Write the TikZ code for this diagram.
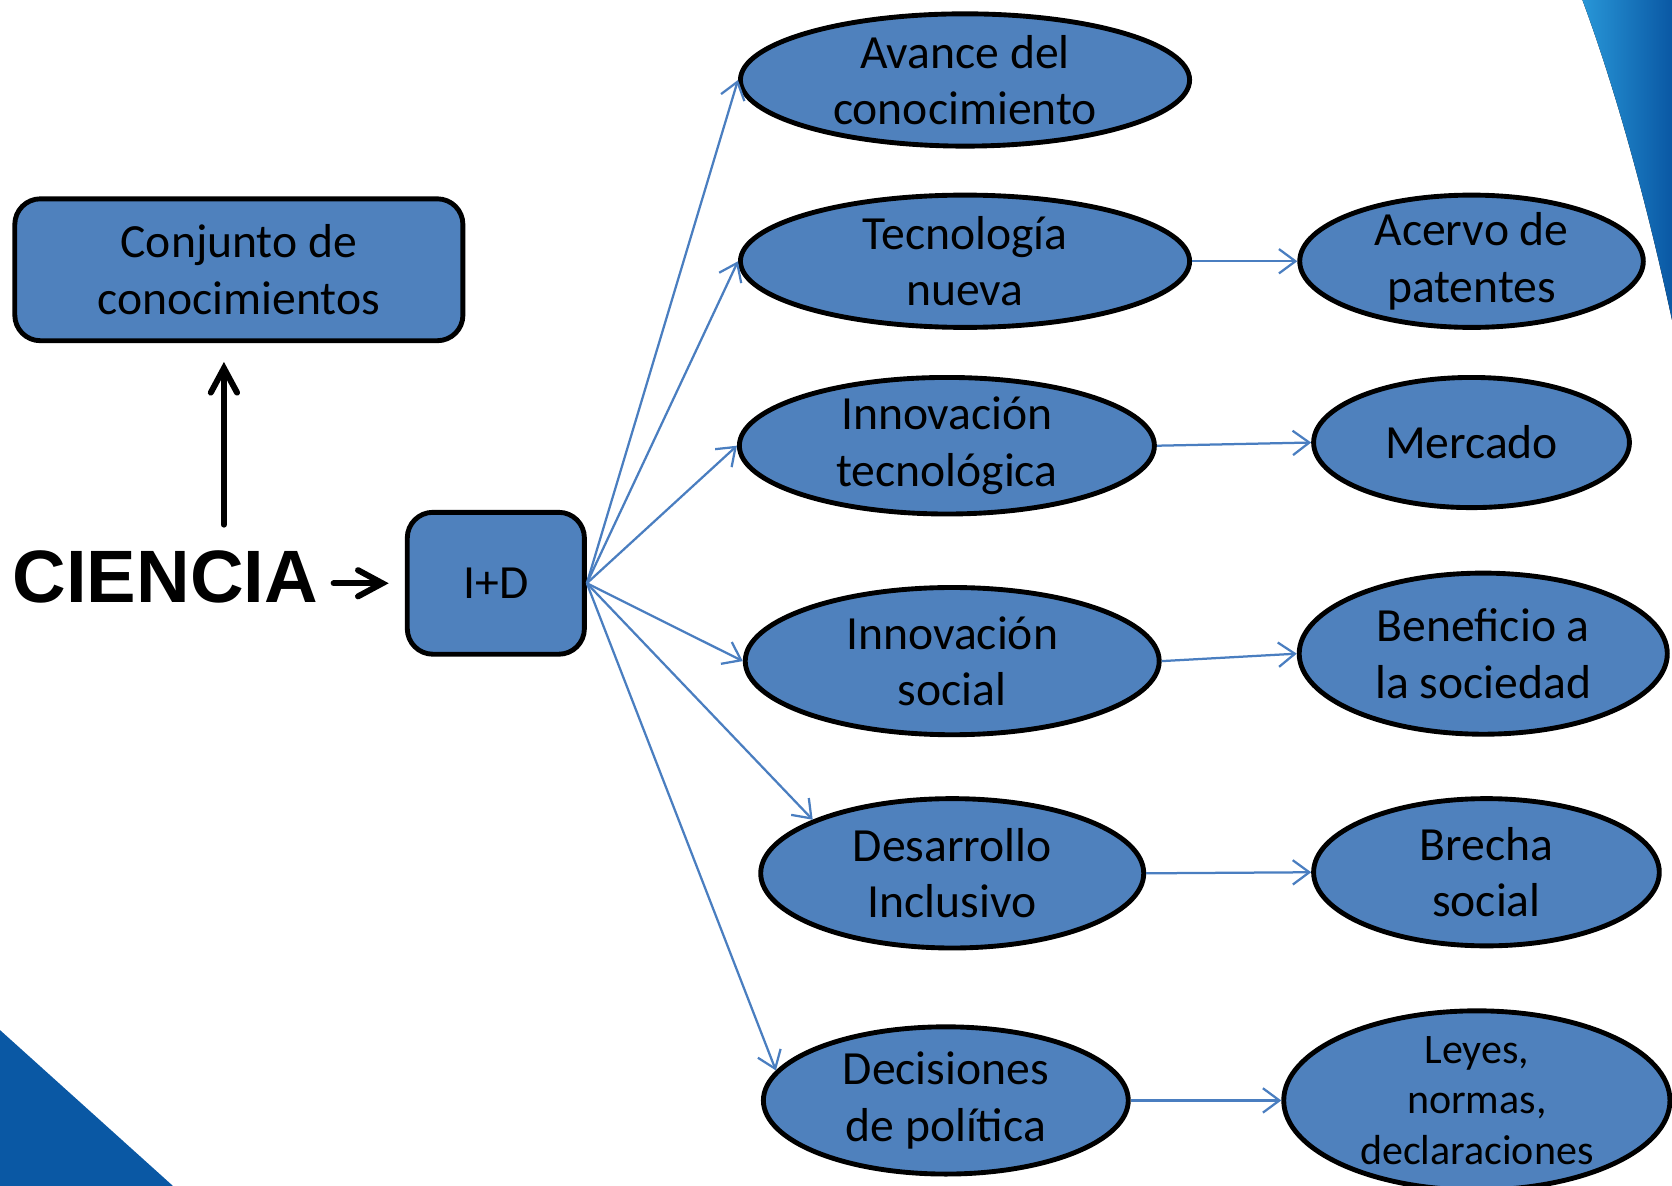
\documentclass[tikz,border=0pt]{standalone}
\usepackage{fontspec}
\setmainfont{Carlito}
\newfontfamily\arialfont{Liberation Sans}
\usetikzlibrary{shapes,arrows.meta}
\definecolor{boxblue}{RGB}{79,129,189}
\definecolor{linkblue}{RGB}{74,126,192}
\definecolor{deepblue}{RGB}{10,88,164}
\definecolor{skyblue}{RGB}{40,150,215}

\begin{document}
\begin{tikzpicture}[x=0.01cm,y=-0.01cm,
  every node/.style={font=\fontsize{12.7}{15.1}\selectfont},
  box/.style={draw,line width=1.3pt,fill=boxblue,rounded corners=0.24cm,align=center,inner sep=0pt},
  oval/.style={ellipse,draw,line width=1.3pt,fill=boxblue,align=center,inner xsep=0pt,inner ysep=-10pt},
  link/.style={draw=linkblue,line width=0.6pt,-{Straight Barb[length=4.4pt,width=6.5pt]}},
  push/.style={line width=1.6pt,line cap=round,-{Straight Barb[length=6.5pt,width=7pt,line cap=round]}}]
\useasboundingbox (0,0) rectangle (1568,1112);
\clip (0,0) rectangle (1568,1112);
% background corners
\fill[left color=skyblue,right color=deepblue] (1484,0) .. controls (1510,70) and (1540,170) .. (1568,300) -- (1568,0) -- cycle;
\fill[deepblue] (0,966) -- (162,1112) -- (0,1112) -- cycle;

\node[box,minimum width=4.2cm,minimum height=1.33cm] (con) at (224,253) {Conjunto de\\conocimientos};
\node[inner sep=0pt,font=\arialfont\bfseries\fontsize{19.8}{22}\selectfont] (cie) at (155,541) {CIENCIA};
\node[box,minimum width=1.66cm,minimum height=1.33cm] (idd) at (465,547) {I+D};
\coordinate (up) at (210,492);

\node[oval,minimum width=4.21cm,minimum height=1.24cm] (avance) at (905,75) {Avance del\\conocimiento};
\node[oval,minimum width=4.21cm,minimum height=1.24cm] (tecno) at (905,245) {Tecnolog\'ia\\nueva};
\node[oval,minimum width=3.89cm,minimum height=1.28cm] (innt) at (888,418) {Innovaci\'on\\tecnol\'ogica};
\node[oval,minimum width=3.88cm,minimum height=1.38cm] (inns) at (893,620) {Innovaci\'on\\social};
\node[oval,minimum width=3.59cm,minimum height=1.40cm] (desa) at (893,819) {Desarrollo\\Inclusivo};
\node[oval,minimum width=3.42cm,minimum height=1.38cm] (deci) at (887,1032) {Decisiones\\de pol\'itica};

\node[oval,minimum width=3.22cm,minimum height=1.24cm] (acervo) at (1380,245) {Acervo de\\patentes};
\node[oval,minimum width=2.96cm,minimum height=1.22cm] (merc) at (1380,415) {Mercado};
\node[oval,minimum width=3.45cm,minimum height=1.51cm] (bene) at (1391,613) {Beneficio a\\la sociedad};
\node[oval,minimum width=3.24cm,minimum height=1.38cm] (brecha) at (1394,818) {Brecha\\social};
\node[oval,minimum width=3.62cm,minimum height=1.68cm,font=\fontsize{11.2}{13.4}\selectfont] (leyes) at (1385,1032) {Leyes,\\normas,\\declaraciones};

\draw[push,shorten >=5pt] (up) -- (up |- con.south);
\draw[push,shorten <=4pt,shorten >=4.3pt] (cie.east |- idd.west) -- (idd.west);

\draw (idd.east) edge[link] (avance.west)
(idd.east) edge[link] (tecno.west)
(idd.east) edge[link] (innt.west)
(idd.east) edge[link] (inns.west)
(idd.east) edge[link] (desa.159)
(idd.east) edge[link] (deci.170);
\draw (tecno.east) edge[link] (acervo.west)
(innt.east) edge[link] (merc.west)
(inns.east) edge[link] (bene.west)
(desa.east) edge[link] (brecha.west)
(deci.east) edge[link] (leyes.west);
\end{tikzpicture}
\end{document}
